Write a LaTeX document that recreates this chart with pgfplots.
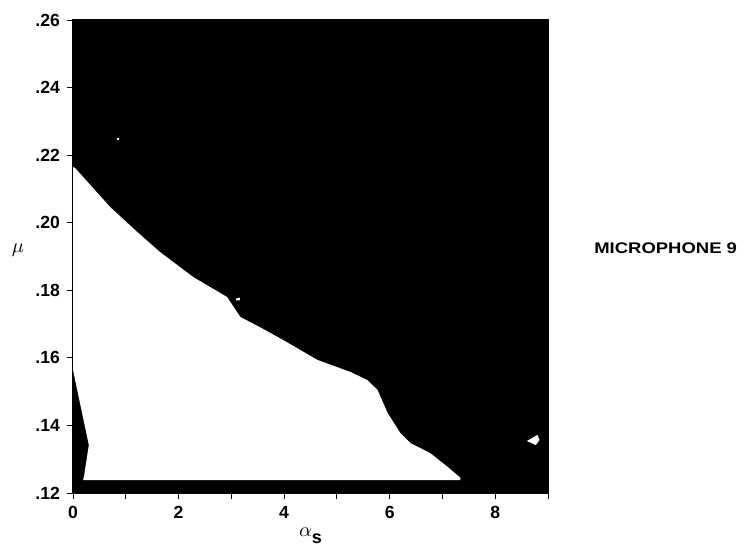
\documentclass[border=0pt]{standalone}
\usepackage{pgfplots}
\pgfplotsset{compat=1.18}
\usepackage{graphicx}
\usepackage{fontspec}
\setmainfont{Liberation Sans}
\begin{document}
\begin{tikzpicture}
\begin{axis}[name=ax,
  width=237.5pt, height=236.5pt, scale only axis,
  xmin=0, xmax=9, ymin=0.12, ymax=0.26,
  clip=false, axis on top,
  xtick pos=bottom, ytick pos=left,
  xtick={0,1,2,3,4,5,6,7,8,9},
  xticklabels={0,,2,,4,,6,,8,},
  ytick={0.12,0.14,0.16,0.18,0.20,0.22,0.24,0.26},
  yticklabels={.12,.14,.16,.18,.20,.22,.24,.26},
  tick align=outside, major tick length=3pt,
  every tick/.style={black, line width=0.4pt},
  ticklabel style={font=\bfseries\fontsize{8.8}{10}\selectfont},
  axis line style={line width=0.5pt},
  xlabel={$\alpha$\raisebox{-0.6ex}{\bfseries\fontsize{9}{10}\selectfont s}},
  xlabel style={yshift=2pt},
  ylabel={$\mu$},
  ylabel style={rotate=-90, at={(rel axis cs:0,0.514)}, anchor=center, xshift=-27.5pt},
]
% black background region
\addplot[fill=black, draw=none] coordinates {(0,0.12) (9,0.12) (9,0.26) (0,0.26)} -- cycle;
% white region
\addplot[fill=white, draw=none] coordinates {
 (0,0.2165) (0.04,0.2162) (0.70,0.2047) (1.20,0.1975) (1.65,0.1913) (2.28,0.1839) (2.92,0.1780)
 (3.17,0.1721) (3.55,0.1690) (3.98,0.1653) (4.63,0.1594) (5.26,0.1558) (5.58,0.1534)
 (5.77,0.1505) (5.96,0.1437) (6.20,0.1378) (6.39,0.1348) (6.77,0.1318) (7.10,0.1277)
 (7.34,0.1245) (7.34,0.1238) (0.19,0.1238) (0.21,0.1250) (0.30,0.1342) (0,0.1564)
} -- cycle;
% small white blob
\addplot[fill=white, draw=none] coordinates {
 (8.60,0.1354) (8.80,0.1372) (8.84,0.1357) (8.77,0.1342)
} -- cycle;
% small specks
\addplot[fill=white, draw=none] coordinates {
 (3.09,0.1776) (3.16,0.1778) (3.16,0.1770) (3.09,0.1770)
} -- cycle;
\addplot[fill=white, draw=none] coordinates {
 (0.83,0.2252) (0.87,0.2252) (0.87,0.2246) (0.83,0.2246)
} -- cycle;
\node[anchor=west, inner sep=0pt, font=\bfseries\fontsize{7.7}{9}\selectfont]
  at (axis cs:9.87,0.1925) {\scalebox{1.2}[1]{MICROPHONE 9}};
\end{axis}
\pgfresetboundingbox
\path (ax.south west) ++(-36.5pt,-27pt) rectangle ++(371.5pt,273.5pt);
\end{tikzpicture}
\end{document}
